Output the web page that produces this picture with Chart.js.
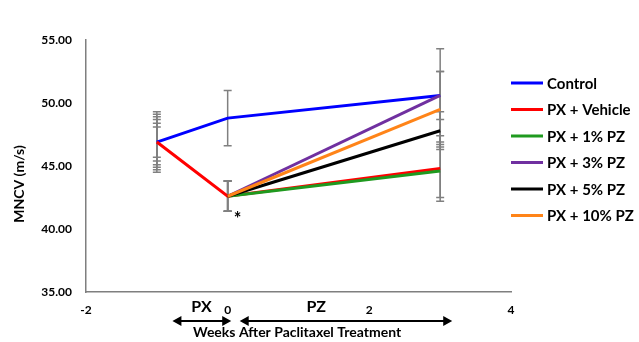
<!DOCTYPE html>
<html>
<head>
<meta charset="utf-8">
<script src="https://cdn.jsdelivr.net/npm/chart.js@4.4.1/dist/chart.umd.min.js"></script>
<style>
  html, body { margin: 0; padding: 0; background: #fff; }
  #wrap { width: 639px; height: 342px; }
</style>
</head>
<body>
<div id="wrap"><canvas id="mncv-chart" width="639" height="342"></canvas></div>
<script>
// ── data ─────────────────────────────────────────────
const weeks = [-1, 0, 3];
const seriesLabels = ['Control', 'PX + Vehicle', 'PX + 1% PZ', 'PX + 3% PZ', 'PX + 5% PZ', 'PX + 10% PZ'];
const seriesColors = ['#0000ff', '#ff0000', '#1f9a1f', '#7030a0', '#000000', '#ff8418'];

const control = [46.9, 48.8, 50.6];
const vehicle = [46.9, 42.6, 44.8];
const pz1 = [null, 42.6, 44.6];
const pz3 = [null, 42.6, 50.6];
const pz5 = [null, 42.6, 47.8];
const pz10 = [null, 42.6, 49.5];

const controlSD = [2.4, 2.2, 3.7];
const vehicleSD = [1.2, 1.2, 2.6];
const pz1SD = [2.2, 1.2, 2.1];
const pz3SD = [2.0, 1.2, 1.9];
const pz5SD = [1.8, 1.2, 1.5];
const pz10SD = [1.5, 1.2, 3.0];

const yTicks = [35, 40, 45, 50, 55];
const xTicks = [-2, 0, 2, 4];

const means = [control, vehicle, pz1, pz3, pz5, pz10];
const sds = [controlSD, vehicleSD, pz1SD, pz3SD, pz5SD, pz10SD];

const FONT = 'Lato, "Open Sans", sans-serif';

// error bars (PZ groups share the vehicle baseline before treatment)
const errorBars = {
  id: 'errorBars',
  beforeDatasetsDraw(chart) {
    const { ctx, scales: { x, y } } = chart;
    ctx.save();
    ctx.strokeStyle = '#808080';
    ctx.lineWidth = 1.5;
    sds.forEach((sd, s) => {
      weeks.forEach((w, i) => {
        const m = means[s][i] ?? vehicle[i];
        const px = x.getPixelForValue(w);
        const top = y.getPixelForValue(m + sd[i]);
        const bot = y.getPixelForValue(m - sd[i]);
        ctx.beginPath();
        ctx.moveTo(px, top); ctx.lineTo(px, bot);
        ctx.moveTo(px - 4, top); ctx.lineTo(px + 4, top);
        ctx.moveTo(px - 4, bot); ctx.lineTo(px + 4, bot);
        ctx.stroke();
      });
    });
    ctx.restore();
  }
};

function arrow(ctx, x1, x2, y) {
  ctx.beginPath();
  ctx.moveTo(x1 + 6, y); ctx.lineTo(x2 - 6, y);
  ctx.stroke();
  ctx.beginPath();
  ctx.moveTo(x1, y); ctx.lineTo(x1 + 9, y - 5); ctx.lineTo(x1 + 9, y + 5); ctx.closePath();
  ctx.moveTo(x2, y); ctx.lineTo(x2 - 9, y - 5); ctx.lineTo(x2 - 9, y + 5); ctx.closePath();
  ctx.fill();
}

// legend, axis title and the treatment annotations
const extras = {
  id: 'extras',
  afterDraw(chart) {
    const { ctx, chartArea, scales: { x, y } } = chart;
    ctx.save();
    ctx.fillStyle = '#000';
    ctx.strokeStyle = '#000';

    // legend
    ctx.font = 'bold 15px ' + FONT;
    ctx.textBaseline = 'middle';
    ctx.textAlign = 'left';
    seriesLabels.forEach((lab, i) => {
      const ly = 83 + i * 26.5;
      ctx.fillStyle = seriesColors[i];
      ctx.fillRect(chartArea.right, ly - 1.5, 32, 3);
      ctx.fillStyle = '#000';
      ctx.fillText(lab, chartArea.right + 36, ly + 1);
    });

    // y title
    ctx.save();
    ctx.translate(19, (chartArea.top + chartArea.bottom) / 2 + 18);
    ctx.rotate(-Math.PI / 2);
    ctx.textAlign = 'center';
    ctx.font = 'bold 14px ' + FONT;
    ctx.fillText('MNCV (m/s)', 0, 0);
    ctx.restore();

    // significance mark
    ctx.font = 'bold 18px ' + FONT;
    ctx.textAlign = 'center';
    ctx.fillText('*', x.getPixelForValue(0) + 10, y.getPixelForValue(40.8));

    // phases
    ctx.font = 'bold 16px ' + FONT;
    ctx.fillText('PX', x.getPixelForValue(-0.37), 307);
    ctx.fillText('PZ', x.getPixelForValue(1.25), 307);
    ctx.lineWidth = 2;
    arrow(ctx, x.getPixelForValue(-0.78), x.getPixelForValue(0.05), 321);
    arrow(ctx, x.getPixelForValue(0.17), x.getPixelForValue(3.17), 321);

    ctx.font = 'bold 14px ' + FONT;
    ctx.fillText('Weeks After Paclitaxel Treatment', x.getPixelForValue(0.98), 332);
    ctx.restore();
  }
};

const datasets = seriesLabels.map((label, i) => ({
  label,
  data: weeks.map((w, j) => ({ x: w, y: means[i][j] })),
  borderColor: seriesColors[i],
  backgroundColor: seriesColors[i],
  borderWidth: 3,
  pointRadius: 0,
  spanGaps: false,
  order: seriesLabels.length - i
}));

new Chart(document.getElementById('mncv-chart').getContext('2d'), {
  type: 'line',
  data: { datasets },
  plugins: [errorBars, extras],
  options: {
    responsive: false,
    animation: false,
    layout: { padding: { left: 0, top: 40, right: 128, bottom: 0 } },
    plugins: { legend: { display: false }, tooltip: { enabled: false } },
    scales: {
      x: {
        type: 'linear',
        min: -2, max: 4,
        afterBuildTicks: s => { s.ticks = xTicks.map(v => ({ value: v })); },
        afterFit: s => { s.height = 50; },
        grid: { display: false, drawTicks: false },
        border: { color: '#7f7f7f', width: 1.5 },
        ticks: { padding: 11, color: '#000', font: { family: FONT, size: 12, weight: 'bold' } }
      },
      y: {
        min: 35, max: 55,
        afterBuildTicks: s => { s.ticks = yTicks.map(v => ({ value: v })); },
        afterFit: s => { s.width = 86; },
        grid: { display: false, drawTicks: false },
        border: { color: '#7f7f7f', width: 1.5 },
        ticks: {
          padding: 14, color: '#000',
          font: { family: FONT, size: 12, weight: 'bold' },
          callback: v => v.toFixed(2)
        }
      }
    }
  }
});
</script>
</body>
</html>
